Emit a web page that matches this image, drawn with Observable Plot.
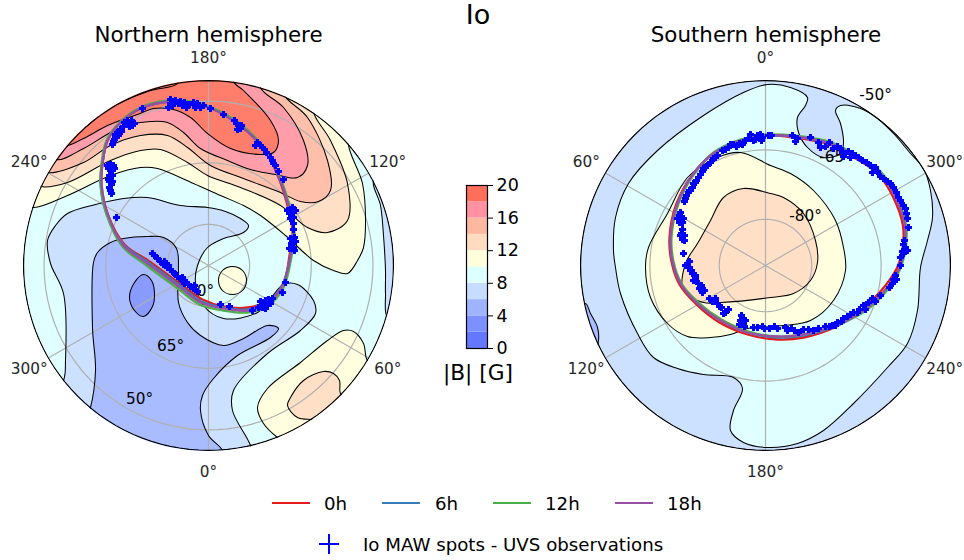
<!DOCTYPE html>
<html><head><meta charset="utf-8">
<script src="https://cdn.jsdelivr.net/npm/d3@7"></script>
<script src="https://cdn.jsdelivr.net/npm/@observablehq/plot@0.6"></script>
<style>
html,body{margin:0;background:#fff}
#fig{position:relative;width:964px;height:560px;overflow:hidden;font-family:"DejaVu Sans",sans-serif;color:#000}
#fig>svg{position:absolute}
.t{position:absolute;white-space:nowrap;line-height:1;transform:translate(-50%,-50%)}
.l{position:absolute;white-space:nowrap;line-height:1;transform:translateY(-50%);font-size:18.2px}
.k{position:absolute;height:2.4px;width:38px;top:502px}
.p{position:absolute;background:#0000ff}
</style></head><body><div id="fig"></div>
<script>
// |B| bands, 2 G wide
const bandEdges=[0,2,4,6,8,10,12,14,16,18,20];
const bandColors=["#6478ff","#7d90ff","#9fb4ff","#c6ddff","#dcffff","#ffffdc","#ffdcc0","#ffb8a0","#ff92a2","#ff6e5a"];
const barTicks=[0,4,8,12,16,20];
// Graticule
const northLonTicks=[180,120,60,0,300,240];
const southLonTicks=[0,300,240,180,120,60];
const northLatTicks=[50,65,80];
const southLatTicks=[-50,-65,-80];
const northLatLabels=[[-69,134,"50°"],[-38,81,"65°"],[-8,26,"80°"]];
const southLatLabels=[[110,-170,"-50°"],[70,-108,"-65°"],[40,-49,"-80°"]];
// Contour outlines in the map plane of each panel (east/south offsets from the pole; rim at 185)
const north20=[[-125,-138],[-108,-152],[-88,-163],[-58,-175],[-31,-182],[-30,-196],[-90,-178],[-135,-145]];
const north18=[[-145,-120],[-125,-127],[-101,-140],[-71,-151],[-55,-157],[-35,-156],[-18,-148],[-1,-132],[22,-117],[52,-111],[65,-113],[70,-125],[62,-145],[35,-175],[25,-184],[28,-200],[-60,-195],[-150,-135]];
const north16=[[-153,-106],[-125,-117],[-98,-133],[-78,-141],[-58,-144],[-41,-143],[-25,-133],[-8,-117],[19,-105],[42,-96],[67,-91],[89,-88],[99,-100],[95,-125],[75,-158],[52,-178],[55,-197],[-60,-200],[-165,-125]];
const north14=[[-161,-93],[-125,-103],[-98,-120],[-68,-130],[-41,-130],[-21,-118],[2,-100],[35,-87],[72,-73],[92,-64],[110,-64],[122,-75],[119,-105],[99,-148],[75,-172],[80,-190],[-60,-205],[-175,-105]];
const north12=[[-168,-79],[-141,-83],[-98,-105],[-68,-115],[-48,-116],[-21,-103],[-1,-90],[32,-78],[72,-60],[99,-38],[119,-33],[139,-45],[139,-82],[122,-125],[105,-155],[115,-170],[-60,-210],[-185,-90]];
const north10=[[-175,-58],[-141,-70],[-98,-90],[-68,-98],[-51,-97],[-15,-82],[12,-70],[35,-60],[52,-50],[77,-30],[105,-5],[125,5],[139,8],[149,-5],[155,-18],[157,-48],[154,-82],[140,-124],[150,-135],[-60,-210],[-195,-65]];
const north10Island=[[10,15],[14,5],[24,1],[34,5],[38,15],[34,25],[24,29],[14,25]];
const north10Low=[[159,95],[155,78],[145,66],[135,65],[119,75],[92,97],[59,123],[49,142],[55,158],[69,172],[90,185],[160,130],[172,100]];
const north12Low=[[132,128],[131,115],[125,108],[115,106],[95,115],[82,132],[79,140],[89,152],[104,154],[125,155],[145,140]];
const north8=[[-145,115],[-143,95],[-145,28],[-158,-2],[-161,-25],[-153,-40],[-141,-52],[-113,-61],[-85,-67],[-61,-68],[-28,-60],[-1,-58],[17,-54],[32,-47],[40,-40],[35,-33],[15,-27],[-1,-18],[-11,0],[-13,17],[-5,40],[15,53],[49,47],[62,33],[75,19],[89,19],[105,35],[107,48],[92,65],[59,88],[25,125],[24,145],[42,180],[46,200],[-60,205],[-160,135]];
const north8Rim=[[165,-85],[172,-60],[175,-30],[177,5],[177,28],[179,52],[195,55],[200,-20],[180,-95]];
const north6=[[-118,142],[-113,105],[-116,62],[-115,-3],[-111,-13],[-98,-23],[-85,-27],[-61,-29],[-45,-28],[-32,-17],[-30,5],[-30,37],[-21,57],[-8,70],[15,80],[35,73],[59,60],[70,63],[62,72],[29,90],[5,113],[-6,130],[-8,145],[0,170],[14,185],[16,200],[-60,200],[-125,160]];
const north4=[[-79,32],[-74,17],[-65,9],[-57,15],[-54,28],[-56,41],[-65,51],[-74,45]];
const south8=[[2,-181],[25,-178],[42,-168],[40,-160],[32,-148],[33,-133],[42,-118],[58,-108],[75,-112],[78,-122],[75,-142],[70,-155],[75,-160],[95,-157],[112,-147],[128,-132],[145,-112],[158,-97],[165,-75],[167,-48],[162,-25],[155,2],[152,45],[142,78],[122,102],[88,138],[58,165],[32,178],[2,182],[-22,177],[-35,165],[-32,145],[-23,123],[-32,112],[-62,109],[-88,103],[-112,92],[-128,68],[-145,28],[-150,2],[-152,-15],[-150,-48],[-137,-82],[-108,-115],[-62,-150],[-22,-173]];
const south10=[[5,-100],[-25,-113],[-48,-108],[-78,-88],[-98,-52],[-117,-18],[-120,2],[-115,32],[-98,58],[-78,71],[-55,72],[-35,69],[-18,63],[18,60],[45,55],[68,35],[80,5],[78,-18],[70,-45],[48,-75],[25,-92]];
const south12=[[5,-72],[-22,-77],[-42,-68],[-55,-45],[-68,-22],[-80,-2],[-82,25],[-62,37],[-45,37],[5,32],[28,28],[45,15],[52,-3],[50,-25],[38,-52],[18,-68]];
const south6Rim=[[-180,38],[-175,48],[-168,62],[-167,75],[-170,84],[-195,70]];
// Io footprint at four System III times
const north0h=[[-38,-164],[-8,-161],[28,-143],[54,-118],[68,-93],[81,-52],[84,-33],[81,-10],[75,18],[60,35],[39,42],[15,41],[-6,34],[-29,18],[-59,-4],[-84,-21],[-101,-52],[-107,-82],[-106,-102],[-101,-125],[-88,-143],[-68,-157]];
const north6h=[[-38,-164],[-8,-161],[29,-142],[55,-117],[69,-92],[82,-52],[85,-33],[82,-10],[74,19],[59,37],[39,44],[15,42],[-7,36],[-30,19],[-60,-3],[-85,-21],[-102,-52],[-108,-82],[-106,-102],[-101,-125],[-88,-143],[-68,-157]];
const north12h=[[-38,-165],[-8,-162],[30,-143],[56,-117],[70,-92],[83,-52],[86,-33],[83,-9],[75,22],[60,40],[39,47],[15,45],[-9,39],[-32,22],[-62,0],[-86,-19],[-102,-51],[-108,-82],[-107,-102],[-102,-125],[-88,-144],[-68,-158]];
const north18h=[[-38,-164],[-8,-161],[29,-142],[55,-117],[69,-92],[82,-52],[85,-33],[82,-10],[74,20],[59,38],[39,45],[15,43],[-8,37],[-31,20],[-61,-2],[-85,-20],[-101,-52],[-107,-82],[-106,-102],[-101,-125],[-88,-143],[-68,-157]];
const south0h=[[2,-130],[-25,-125],[-52,-112],[-72,-92],[-89,-62],[-96,-28],[-94,-4],[-86,19],[-69,39],[-46,57],[-18,69],[12,74],[38,72],[71,61],[96,44],[120,20],[133,-1],[138,-35],[131,-61],[113,-91],[90,-107],[64,-121],[28,-128]];
const south6h=[[2,-130],[-25,-125],[-52,-112],[-72,-92],[-88,-62],[-95,-28],[-93,-4],[-85,18],[-68,38],[-45,55],[-18,67],[12,72],[38,70],[72,60],[98,45],[122,22],[135,0],[140,-35],[133,-62],[115,-92],[92,-108],[65,-122],[28,-129]];
const south12h=[[2,-131],[-25,-126],[-52,-113],[-71,-92],[-87,-62],[-94,-28],[-92,-4],[-84,18],[-67,37],[-44,54],[-17,66],[12,71],[38,69],[72,59],[99,46],[123,23],[136,0],[141,-35],[134,-63],[116,-93],[93,-109],[66,-123],[28,-130]];
const south18h=[[2,-130],[-25,-125],[-52,-112],[-72,-92],[-88,-62],[-95,-28],[-93,-4],[-85,18],[-68,38],[-45,55],[-18,67],[12,71],[38,69],[72,59],[98,45],[122,22],[135,0],[140,-35],[133,-62],[115,-92],[92,-108],[65,-122],[28,-129]];
// UVS spots
const northSpots=[[-66,-157],[-80,-142],[-83,-141],[-78,-143],[-76,-140],[-81,-145],[-85,-139],[-88,-136],[-91,-133],[-93,-128],[-95,-124],[-96,-121],[-97,-99],[-100,-97],[-95,-100],[-98,-95],[-98,-88],[-99,-84],[-97,-81],[-99,-78],[-98,-75],[-97,-72],[-92,-48],[-38,-162],[-36,-160],[-38,-166],[-30,-162],[-26,-160],[-28,-164],[-19,-161],[-11,-162],[-8,-158],[2,-157],[15,-151],[28,-142],[30,-140],[32,-137],[49,-123],[54,-118],[58,-113],[64,-105],[65,-102],[70,-94],[75,-86],[83,-53],[81,-52],[84,-58],[85,-42],[85,-36],[86,-28],[84,-23],[83,-22],[85,-18],[77,17],[74,27],[-56,-12],[-54,-10],[-51,-7],[-48,-4],[-45,-1],[-41,2],[-38,4],[-36,6],[-33,9],[-31,11],[-28,13],[-25,16],[-22,17],[-20,19],[-15,23],[-11,26],[12,39],[21,41],[44,45],[50,42],[55,39],[59,36],[62,38],[57,35],[60,38],[54,42],[-79,-139],[-84,-143],[-77,-145],[-74,-142],[-90,-130],[-87,-134],[-93,-131],[-94,-126],[-98,-101],[-94,-97],[-101,-100],[-96,-90],[-100,-86],[-99,-90],[-96,-84],[-40,-158],[-33,-165],[-24,-163],[-22,-158],[-15,-163],[-13,-158],[-5,-160],[26,-145],[33,-140],[29,-136],[47,-120],[52,-120],[56,-116],[62,-108],[67,-100],[82,-47],[79,-55],[87,-55],[85,-48],[82,-27],[87,-24],[81,-17],[86,-15],[-44,-4],[-40,0],[-34,8],[-26,12],[-24,18],[-18,21],[-14,20],[53,41],[52,36],[60,34],[57,43],[64,33]];
const southSpots=[[3,-130],[-3,-128],[-4,-125],[-10,-126],[-17,-127],[-23,-121],[-26,-122],[-32,-121],[-37,-118],[-43,-115],[-52,-107],[-55,-103],[-60,-98],[-63,-94],[-65,-91],[-67,-88],[-70,-83],[-73,-78],[-75,-75],[-77,-73],[-80,-67],[-85,-47],[-86,-50],[-83,-43],[-83,-28],[-84,-32],[-81,-25],[-82,-12],[-78,-2],[-78,0],[-73,8],[-75,5],[-72,15],[-67,18],[-70,13],[-63,27],[-66,23],[-53,36],[-48,38],[-44,42],[-40,47],[-23,53],[-22,58],[-25,55],[-12,62],[-3,61],[4,63],[12,63],[22,65],[29,65],[26,63],[43,64],[53,63],[60,61],[64,61],[67,60],[72,57],[78,53],[82,51],[88,47],[94,44],[98,40],[103,37],[107,33],[115,30],[127,18],[130,10],[128,14],[135,0],[138,-12],[140,-18],[139,-25],[143,-38],[141,-52],[138,-60],[133,-68],[131,-73],[125,-82],[122,-84],[115,-89],[110,-98],[107,-93],[101,-103],[93,-108],[87,-112],[90,-110],[80,-112],[75,-117],[77,-113],[68,-117],[64,-123],[55,-118],[53,-123],[45,-128],[32,-127],[30,-124],[27,-130],[6,-130],[-5,-127],[-85,-53],[-88,-47],[-82,-47],[-86,-43],[-83,-36],[-85,-30],[-81,-30],[-83,-26],[-76,-4],[-80,0],[-76,2],[-74,5],[-70,10],[-69,16],[-64,20],[-61,25],[-56,33],[-50,33],[-46,41],[-37,44],[-42,48],[-24,50],[-20,55],[-26,59],[-21,61],[-8,62],[83,-114],[85,-108],[78,-109],[72,-119],[60,-119],[97,-105],[105,-100],[112,-94],[118,-87],[128,-78],[135,-65],[142,-47],[140,-57],[137,-14],[142,-15],[138,-21],[135,-8],[124,22],[131,14],[110,36],[100,44],[92,47],[85,49],[76,56],[70,60],[48,65],[38,64],[33,67],[20,62],[-1,63],[9,61],[-40,-116],[-35,-121],[-20,-125],[-8,-130],[-5,-131],[-15,-131],[-29,-119],[-12,-125],[-58,-100],[-62,-97],[-69,-85],[-72,-82],[-76,-75],[-79,-70],[-81,-64],[-48,-110],[-50,-108]];

const footColors={"0h":"#e41a1c","6h":"#377eb8","12h":"#4daf4a","18h":"#984ea3"};
// The filled map reads a little paler than the colorbar
const mapColors=bandColors.map(c=>d3.interpolateRgb(c,"#fff")(0.1));
const barScale={type:"threshold",domain:bandEdges.slice(1,-1),range:bandColors};
const mapScale={type:"threshold",domain:bandEdges.slice(1,-1),range:mapColors};
const rows=(list)=>list.flatMap(([pts,level],id)=>pts.map(([x,y])=>({x,y,id,level})));
const trace=(pts,key)=>pts.map(([x,y])=>({x,y,key}));

function panel({regions,baseLevel,foot,spots,lonTicks,latTicks,latLabels,rot,k,halfW,clipId}){
  const toXY=(lon,r)=>{const t=rot(lon)*Math.PI/180;return {x:r*Math.sin(t),y:-r*Math.cos(t)}};
  const rimR=185;
  const rim=d3.range(0,360,3).map(a=>({...toXY(a,rimR),level:baseLevel}));
  const circles=latTicks.flatMap(lat=>d3.range(0,363,3).map(a=>({...toXY(a,(90-Math.abs(lat))*k),lat})));
  const spokes=lonTicks.flatMap(lon=>[{x:0,y:0,lon},{...toXY(lon,rimR),lon}]);
  const lonText=lonTicks.map(lon=>({...toXY(lon,207),t:lon+"°"}));
  const table=rows(regions);
  const fp=foot.flatMap(([pts,key])=>trace(pts,key));
  const plot=Plot.plot({
    width:halfW*2,height:450,margin:0,
    style:{background:"transparent",fontFamily:"DejaVu Sans",color:"#000"},
    x:{domain:[-halfW,halfW],range:[0,halfW*2],axis:null},
    y:{domain:[-225,225],range:[0,450],axis:null},
    color:mapScale,
    marks:[
      Plot.line(rim,{x:"x",y:"y",fill:"level",stroke:"none",curve:"linear-closed"}),
      Plot.line(table,{x:"x",y:"y",z:"id",fill:"level",stroke:"none",curve:"catmull-rom-closed"}),
      Plot.line(circles,{x:"x",y:"y",z:"lat",stroke:"#b0b0b0",strokeWidth:1.2}),
      Plot.line(spokes,{x:"x",y:"y",z:"lon",stroke:"#b0b0b0",strokeWidth:1.2}),
      Plot.line(table,{x:"x",y:"y",z:"id",stroke:"#000",strokeWidth:1.05,curve:"catmull-rom-closed"}),
      Plot.text(latLabels,{x:d=>d[0],y:d=>d[1],text:d=>d[2],fontSize:15.3,fill:"#000"}),
      Plot.line(fp,{x:"x",y:"y",z:"key",stroke:d=>footColors[d.key],strokeWidth:2.3,curve:"catmull-rom-closed"}),
      Plot.dot(spots,{x:d=>d[0],y:d=>d[1],symbol:"plus",r:2.4,stroke:"#0000ff",strokeWidth:3}),
      Plot.line(rim,{x:"x",y:"y",stroke:"#000",strokeWidth:1.3,curve:"linear-closed"}),
      Plot.text(lonText,{x:"x",y:"y",text:"t",fontSize:15.3,fill:"#262626"})
    ]
  });
  const s=d3.select(plot);
  s.append("defs").append("clipPath").attr("id",clipId).append("circle")
    .attr("cx",plot.scale("x").apply(0)).attr("cy",plot.scale("y").apply(0)).attr("r",rimR+0.6);
  s.selectAll('g[aria-label="line"]').attr("clip-path",`url(#${clipId})`);
  return plot;
}

const north=panel({
  regions:[[north10,11],[north12,13],[north14,15],[north16,17],[north18,19],[north20,19],[north10Low,11],[north12Low,13],[north10Island,11],[north8,7],[north6,5],[north4,3],[north8Rim,7]],
  baseLevel:9,
  foot:[[north0h,"0h"],[north6h,"6h"],[north12h,"12h"],[north18h,"18h"]],
  spots:northSpots,lonTicks:northLonTicks,latTicks:northLatTicks,latLabels:northLatLabels,
  rot:lon=>180-lon,k:185/45,halfW:208,clipId:"cn"});
const south=panel({
  regions:[[south8,9],[south10,11],[south12,13],[south6Rim,5]],
  baseLevel:7,
  foot:[[south0h,"0h"],[south6h,"6h"],[south12h,"12h"],[south18h,"18h"]],
  spots:southSpots,lonTicks:southLonTicks,latTicks:southLatTicks,latLabels:southLatLabels,
  rot:lon=>-lon,k:185/40,halfW:199,clipId:"cs"});

const bands=bandColors.map((c,i)=>({lo:bandEdges[i],hi:bandEdges[i+1]}));
const bar=Plot.plot({
  width:80,height:190,marginLeft:26,marginRight:33,marginTop:15,marginBottom:12,
  style:{background:"transparent",fontFamily:"DejaVu Sans",color:"#000",fontSize:"17.5px"},
  x:{domain:[0,1],axis:null},
  y:{domain:[0,20],ticks:barTicks},
  color:barScale,
  marks:[
    Plot.rect(bands,{x1:0,x2:1,y1:"lo",y2:"hi",fill:d=>(d.lo+d.hi)/2}),
    Plot.frame({stroke:"#000",strokeWidth:1.2}),
    Plot.axisY(barTicks,{anchor:"right",label:null,tickSize:5,tickPadding:4,fontSize:17.5,stroke:"#000",fill:"#000"})
  ]
});

const fig=document.getElementById("fig");
north.style.left="0px";north.style.top="40px";
south.style.left="566px";south.style.top="40px";
bar.style.left="440px";bar.style.top="170px";
fig.append(north,south,bar);
const addText=(cls,txt,x,y,size)=>{const e=document.createElement("div");e.className=cls;e.textContent=txt;e.style.left=x+"px";e.style.top=y+"px";if(size)e.style.fontSize=size+"px";fig.append(e)};
addText("t","Io",478,13.5,27);
addText("t","Northern hemisphere",208.5,35,21.4);
addText("t","Southern hemisphere",766,35,21.4);
addText("t","|B| [G]",478,373,21.7);
[["0h",272,324],["6h",382,435],["12h",493,545],["18h",615,667]].forEach(([k,x,tx])=>{
  const e=document.createElement("div");e.className="k";e.style.left=x+"px";e.style.background=footColors[k];fig.append(e);
  addText("l",k,tx,503.5);
});
const hb=document.createElement("div");hb.className="p";Object.assign(hb.style,{left:"319px",top:"543px",width:"20px",height:"2px"});fig.append(hb);
const vb=document.createElement("div");vb.className="p";Object.assign(vb.style,{left:"328px",top:"534px",width:"2px",height:"20px"});fig.append(vb);
addText("l","Io MAW spots - UVS observations",363,544.5);
</script></body></html>
